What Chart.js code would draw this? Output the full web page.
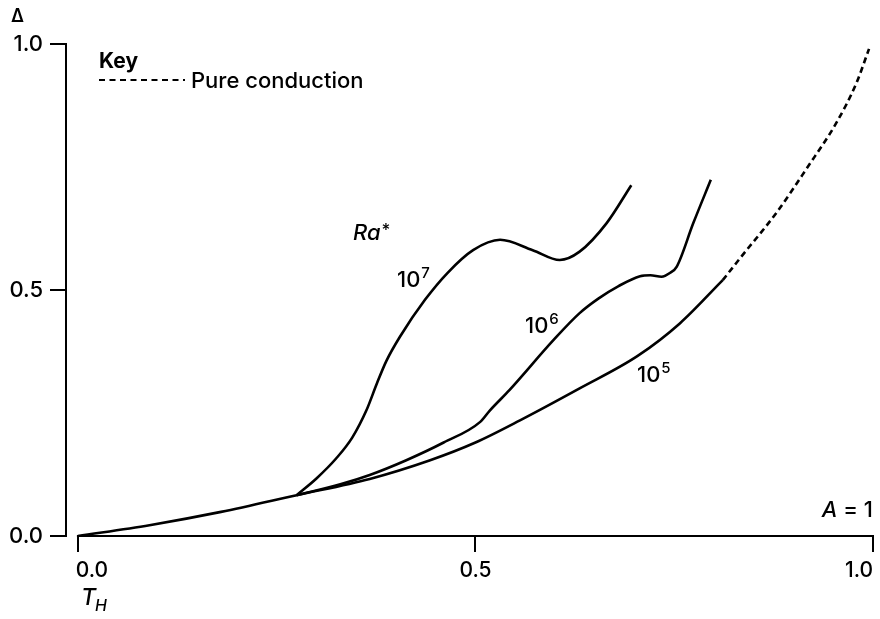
<!DOCTYPE html>
<html>
<head>
<meta charset="utf-8">
<script src="https://cdn.jsdelivr.net/npm/chart.js@4.4.1/dist/chart.umd.min.js"></script>
<style>
  html, body { margin: 0; padding: 0; background: #ffffff; }
  #wrap { width: 880px; height: 619px; position: relative; }
</style>
</head>
<body>
<div id="wrap"><canvas id="c" width="880" height="619"></canvas></div>
<script>
// ---- data (T_H on x, Delta on y) ----
const ra5T = [0, 0.09, 0.18, 0.275, 0.367, 0.443, 0.5, 0.556, 0.631, 0.704, 0.757, 0.811];
const ra5D = [0, 0.022, 0.049, 0.083, 0.116, 0.154, 0.19, 0.235, 0.30, 0.366, 0.432, 0.52];

const condT = [0.811, 0.833, 0.879, 0.917, 0.954, 0.979, 0.995];
const condD = [0.52, 0.565, 0.658, 0.748, 0.84, 0.92, 0.99];

const ra6T = [0.275, 0.33, 0.367, 0.413, 0.46, 0.506, 0.518, 0.543, 0.598, 0.631, 0.655, 0.68, 0.707, 0.72, 0.734, 0.745, 0.753, 0.774, 0.796];
const ra6D = [0.083, 0.105, 0.124, 0.154, 0.19, 0.232, 0.255, 0.297, 0.398, 0.453, 0.483, 0.508, 0.528, 0.53, 0.527, 0.535, 0.547, 0.636, 0.724];

const ra7T = [0.275, 0.30, 0.325, 0.345, 0.363, 0.376, 0.388, 0.405, 0.4365, 0.465, 0.497, 0.531, 0.572, 0.606, 0.631, 0.665, 0.696];
const ra7D = [0.083, 0.117, 0.158, 0.20, 0.256, 0.31, 0.356, 0.405, 0.48, 0.535, 0.581, 0.602, 0.581, 0.561, 0.578, 0.636, 0.713];

const xTicks = [0, 0.5, 1.0];
const yTicks = [0, 0.5, 1.0];
const xTickLabels = ['0.0', '0.5', '1.0'];
const yTickLabels = ['0.0', '0.5', '1.0'];

const FONT = 'Inter, "Liberation Sans", Arial, sans-serif';

function pts(xs, ys) { return xs.map((x, i) => ({ x: x, y: ys[i] })); }

const lineBase = {
  borderColor: '#000', borderWidth: 2.6, pointRadius: 0, fill: false,
  cubicInterpolationMode: 'monotone', clip: false
};

const annotations = {
  id: 'annotations',
  afterDraw(chart) {
    const ctx = chart.ctx;
    const xs = chart.scales.x;
    ctx.save();
    // x axis line, from T_H = 0 to 1
    ctx.strokeStyle = '#000';
    ctx.lineWidth = 2;
    ctx.beginPath();
    const yb = Math.round(chart.chartArea.bottom);
    ctx.moveTo(xs.getPixelForValue(0) - 1, yb);
    ctx.lineTo(xs.getPixelForValue(1) + 1, yb);
    ctx.stroke();

    ctx.fillStyle = '#000';
    ctx.textBaseline = 'alphabetic';
    ctx.textAlign = 'left';
    // Delta axis label
    ctx.font = '600 18px ' + FONT;
    ctx.fillText('Δ', 11, 22);

    // Key
    ctx.font = 'bold 21px ' + FONT;
    ctx.fillText('Key', 99, 68);
    ctx.setLineDash([6, 4.5]);
    ctx.lineWidth = 2;
    ctx.beginPath();
    ctx.moveTo(99, 80);
    ctx.lineTo(185, 80);
    ctx.stroke();
    ctx.setLineDash([]);
    ctx.font = '500 22px ' + FONT;
    ctx.fillText('Pure conduction', 191, 88);

    // Ra*
    ctx.font = 'italic 500 22px ' + FONT;
    ctx.fillText('Ra', 353, 240);
    const raW = ctx.measureText('Ra').width;
    ctx.font = '500 17px ' + FONT;
    ctx.fillText('*', 353 + raW + 1, 236);

    // curve labels with superscripts
    function pow10(exp, x, y) {
      ctx.font = '500 22px ' + FONT;
      ctx.fillText('10', x, y);
      const w = ctx.measureText('10').width;
      ctx.font = '500 15px ' + FONT;
      ctx.fillText(exp, x + w + 1, y - 9);
    }
    pow10('7', 397, 287);
    pow10('6', 525, 333);
    pow10('5', 637, 382);

    // A = 1
    ctx.textAlign = 'right';
    ctx.font = '500 22px ' + FONT;
    const oneW = ctx.measureText(' = 1').width;
    ctx.fillText(' = 1', 873, 517);
    ctx.font = 'italic 500 22px ' + FONT;
    ctx.fillText('A', 873 - oneW, 517);

    // T_H axis label
    ctx.textAlign = 'left';
    ctx.font = 'italic 500 23px ' + FONT;
    ctx.fillText('T', 81, 605);
    ctx.font = 'italic 500 16px ' + FONT;
    ctx.fillText('H', 95, 611);
    ctx.restore();
  }
};

new Chart(document.getElementById('c'), {
  type: 'line',
  data: {
    datasets: [
      Object.assign({ label: 'Ra* 1e5', data: pts(ra5T, ra5D) }, lineBase),
      Object.assign({ label: 'Pure conduction', data: pts(condT, condD) }, lineBase, { borderDash: [6, 4], borderWidth: 2.6 }),
      Object.assign({ label: 'Ra* 1e6', data: pts(ra6T, ra6D) }, lineBase),
      Object.assign({ label: 'Ra* 1e7', data: pts(ra7T, ra7D) }, lineBase)
    ]
  },
  options: {
    responsive: false,
    animation: false,
    devicePixelRatio: 1,
    layout: { padding: { top: 44, right: 7, left: 0, bottom: 0 } },
    plugins: { legend: { display: false }, tooltip: { enabled: false } },
    scales: {
      x: {
        type: 'linear', min: -0.015, max: 1.0,
        afterBuildTicks(s) { s.ticks = xTicks.map(v => ({ value: v })); },
        afterFit(s) { s.height = 83; s.paddingLeft = 0; s.paddingRight = 0; },
        border: { display: false },
        grid: { drawOnChartArea: false, drawTicks: true, tickLength: 16, color: '#000', lineWidth: 2 },
        ticks: {
          color: '#000', font: { family: FONT, size: 21, weight: '500' }, padding: 6, maxRotation: 0, autoSkip: false,
          callback(v) {
            const i = xTicks.indexOf(v);
            const t = i >= 0 ? xTickLabels[i] : '';
            if (i === 0) return '     ' + t;
            if (i === xTicks.length - 1) return t + '     ';
            return t;
          }
        }
      },
      y: {
        type: 'linear', min: 0, max: 1.0,
        afterBuildTicks(s) { s.ticks = yTicks.map(v => ({ value: v })); },
        afterFit(s) { s.width = 66; s.paddingTop = 0; s.paddingBottom = 0; },
        border: { display: true, color: '#000', width: 2 },
        grid: { drawOnChartArea: false, drawTicks: true, tickLength: 16, color: '#000', lineWidth: 2 },
        ticks: {
          color: '#000', font: { family: FONT, size: 22, weight: '500' }, padding: 7,
          callback(v) { const i = yTicks.indexOf(v); return i >= 0 ? yTickLabels[i] : ''; }
        }
      }
    }
  },
  plugins: [annotations]
});
</script>
</body>
</html>
